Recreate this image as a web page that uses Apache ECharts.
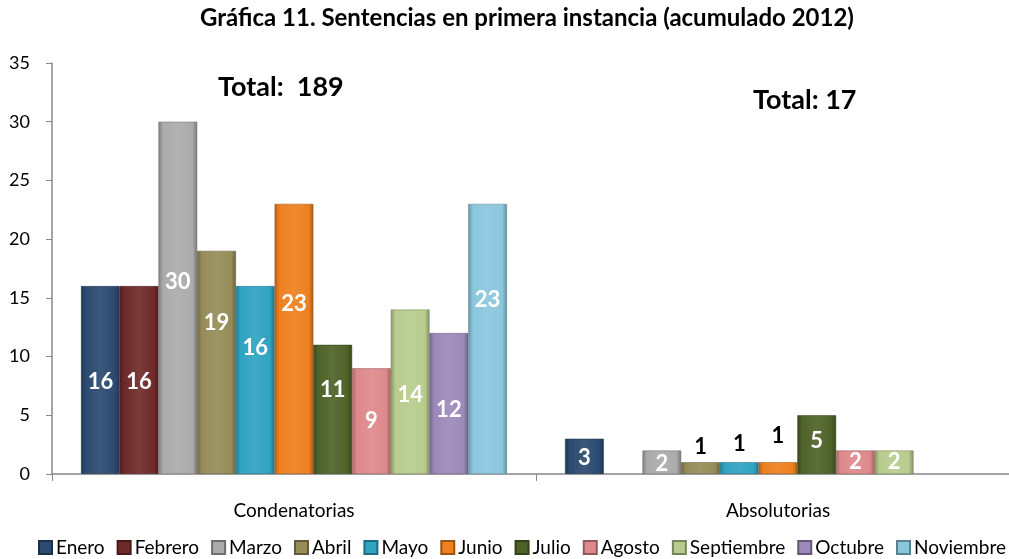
<!DOCTYPE html>
<html>
<head>
<meta charset="utf-8">
<title>Gráfica 11</title>
<script src="https://cdn.jsdelivr.net/npm/echarts@6/dist/echarts.min.js"></script>
<style>
  html, body { margin: 0; padding: 0; background: #fff; overflow: hidden; }
  #chart { width: 1024px; height: 559px; }
</style>
</head>
<body>
<div id="chart"></div>
<script>
// datos
const categories = ['Condenatorias', 'Absolutorias'];
const months = ['Enero', 'Febrero', 'Marzo', 'Abril', 'Mayo', 'Junio', 'Julio', 'Agosto', 'Septiembre', 'Octubre', 'Noviembre'];
const condenatorias = [16, 16, 30, 19, 16, 23, 11, 9, 14, 12, 23];
const absolutorias = [3, 0, 2, 1, 1, 1, 5, 2, 2, 0, 0];
const yTicks = [0, 5, 10, 15, 20, 25, 30, 35];

// desplazamiento vertical de las etiquetas (px), como en el original
const condLabelDy = [2, 2, -16, -40, -32, -35, -20, 0, 3, 6, -39];
const absLabelDy = [2, 0, 2, 1, -2, -10, -4, 0, 0, 0, 0];

const colors = ['#2b4a6f', '#6e2a2a', '#ababab', '#958c58', '#2ea3c2', '#ee801f',
                '#4e6228', '#de898b', '#b7cc8d', '#9c89b9', '#8ac7dd'];

const FONT = 'Lato, "Open Sans", sans-serif';

function shade(hex, f) {
  let n = parseInt(hex.slice(1), 16);
  let r = (n >> 16) & 255, g = (n >> 8) & 255, b = n & 255;
  const m = v => Math.max(0, Math.min(255, Math.round(f < 0 ? v * (1 + f) : v + (255 - v) * f)));
  return 'rgb(' + m(r) + ',' + m(g) + ',' + m(b) + ')';
}

function barFill(c) {
  return new echarts.graphic.LinearGradient(0, 0, 1, 0, [
    {offset: 0, color: shade(c, -0.25)},
    {offset: 0.12, color: c},
    {offset: 0.5, color: shade(c, 0.08)},
    {offset: 0.88, color: c},
    {offset: 1, color: shade(c, -0.3)}
  ]);
}

function makeItem(v, dy, isAbs) {
  const outside = isAbs && v <= 1;
  return {
    value: v > 0 ? v : '-',
    label: {
      show: v > 0,
      position: outside ? 'top' : 'inside',
      offset: [0, dy],
      color: outside ? '#000' : '#fff'
    }
  };
}

const series = months.map((m, i) => ({
  name: m,
  type: 'bar',
  barGap: 0,
  barCategoryGap: '12%',
  itemStyle: {
    color: barFill(colors[i]),
    borderColor: shade(colors[i], -0.35),
    borderWidth: 0.5
  },
  label: {
    fontFamily: FONT,
    fontWeight: 'bold',
    fontSize: 22
  },
  data: [
    makeItem(condenatorias[i], condLabelDy[i], false),
    makeItem(absolutorias[i], absLabelDy[i], true)
  ]
}));

const chart = echarts.init(document.getElementById('chart'));
chart.setOption({
  backgroundColor: '#fff',
  animation: false,
  color: colors,
  textStyle: {fontFamily: FONT},
  grid: {left: 52, width: 968, top: 63, height: 411, containLabel: false},
  legend: {
    data: months.map((m, i) => ({name: m, itemStyle: {color: colors[i]}})),
    top: 533,
    left: 33,
    icon: 'rect',
    itemWidth: 13,
    itemHeight: 13,
    itemGap: 12,
    textStyle: {fontFamily: FONT, fontSize: 19, color: '#000', padding: [0, 0, 0, -1]}
  },
  xAxis: {
    type: 'category',
    data: categories,
    axisLine: {lineStyle: {color: '#888', width: 1.5}},
    axisTick: {show: true, length: 7, lineStyle: {color: '#888'}},
    axisLabel: {color: '#000', fontSize: 19, margin: 27, fontFamily: FONT}
  },
  yAxis: {
    type: 'value',
    min: yTicks[0],
    max: yTicks[yTicks.length - 1],
    interval: 5,
    splitLine: {show: false},
    axisLine: {show: true, lineStyle: {color: '#888', width: 1.5}},
    axisTick: {show: true, length: 6, lineStyle: {color: '#888'}},
    axisLabel: {color: '#000', fontSize: 18, margin: 22, fontFamily: FONT}
  },
  graphic: [
    {
      type: 'text', x: 527, y: 6,
      style: {text: 'Gráfica 11. Sentencias en primera instancia (acumulado 2012)',
        textAlign: 'center', fontFamily: FONT, fontWeight: 'bold', fontSize: 24, fill: '#000'}
    },
    {
      type: 'text', x: 218, y: 74,
      style: {text: 'Total:  189', fontFamily: FONT, fontWeight: 'bold', fontSize: 27, fill: '#000'}
    },
    {
      type: 'text', x: 753, y: 87,
      style: {text: 'Total: 17', fontFamily: FONT, fontWeight: 'bold', fontSize: 27, fill: '#000'}
    }
  ],
  series: series
});
</script>
</body>
</html>
